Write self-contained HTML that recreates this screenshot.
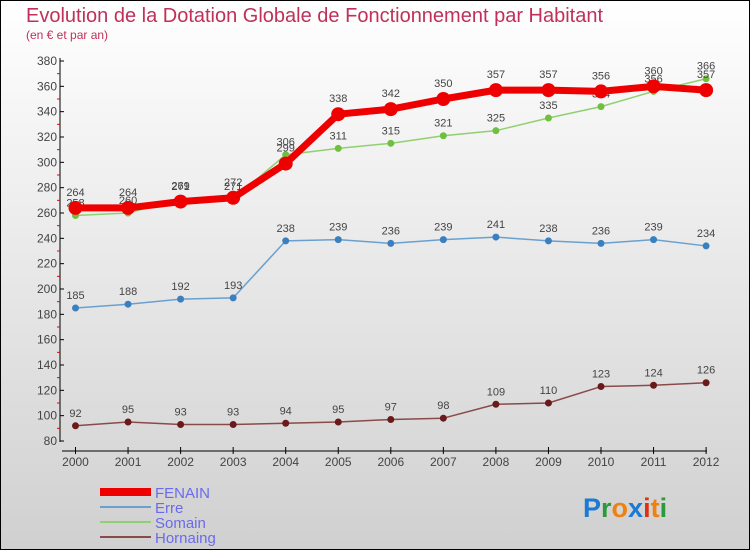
<!DOCTYPE html>
<html><head><meta charset="utf-8"><style>
body{margin:0}
#c{width:750px;height:550px;position:relative;box-sizing:border-box;border:1px solid #000;background:linear-gradient(#fff,#d0d0d0);font-family:"Liberation Sans","DejaVu Sans",sans-serif;overflow:hidden}
</style></head><body>
<div id="c">
<svg id="s" width="750" height="550" style="position:absolute;left:-1px;top:-1px">
<text x="26" y="22" font-size="20" fill="#c0305a">Evolution de la Dotation Globale de Fonctionnement par Habitant</text>
<text x="26" y="39" font-size="12" fill="#c0305a">(en € et par an)</text>
<text x="583" y="517" font-size="27" font-weight="bold" fill="#1a7ad4">P<tspan fill="#2a9a3a">r</tspan><tspan fill="#f08010">o</tspan><tspan fill="#1a7ad4">x</tspan><tspan fill="#e03010">i</tspan><tspan fill="#f08010">t</tspan><tspan fill="#2a9a3a">i</tspan></text>
</svg>
</div>
<script>
const years=[2000,2001,2002,2003,2004,2005,2006,2007,2008,2009,2010,2011,2012];
const fenain=[264,264,269,272,299,338,342,350,357,357,356,360,357];
const erre=[185,188,192,193,238,239,236,239,241,238,236,239,234];
const somain=[258,260,271,271,306,311,315,321,325,335,344,356,366];
const hornaing=[92,95,93,93,94,95,97,98,109,110,123,124,126];
const yTicks=[80,100,120,140,160,180,200,220,240,260,280,300,320,340,360,380];
const ns="http://www.w3.org/2000/svg";
const s=document.getElementById('s');
const X=i=>75.5+i*52.55;
const Y=v=>441-(v-80)*(380/300);
function el(t,a,p){const e=document.createElementNS(ns,t);for(const k in a)e.setAttribute(k,a[k]);(p||s).appendChild(e);return e;}
let ax=el('line',{x1:60,y1:58,x2:60,y2:442,stroke:'#000'});


let bx=el('line',{x1:62,y1:451,x2:707,y2:451,stroke:'#000'});


yTicks.forEach((v,k)=>{
 el('line',{x1:60,y1:Y(v),x2:64,y2:Y(v),stroke:'#000'});
 if(k<yTicks.length-1) el('line',{x1:57,y1:Y(v+10),x2:60,y2:Y(v+10),stroke:'#e00'});
 const t=el('text',{x:57,y:Y(v)+4,'text-anchor':'end','font-size':12,fill:'#444'});t.textContent=v;
 
 
});
years.forEach((y,i)=>{
 el('line',{x1:X(i),y1:447,x2:X(i),y2:454,stroke:'#000'});
 const t=el('text',{x:X(i),y:466,'text-anchor':'middle','font-size':12,fill:'#444'});t.textContent=y;
 
 
});
function series(d,color,w,r,name,dot,lblOff){
 const g=el('g',{});
 
 
 el('polyline',{points:d.map((v,i)=>X(i)+','+Y(v)).join(' '),fill:'none',stroke:color,'stroke-width':w,'stroke-linejoin':'round'},g);
 d.forEach((v,i)=>{
  const c=el('circle',{cx:X(i),cy:Y(v),r:r,fill:dot},g);
  
  
  const t=el('text',{x:X(i),y:Y(v)+lblOff,'text-anchor':'middle','font-size':11,fill:'#444'},g);t.textContent=v;
 });
}
series(hornaing,'#8a4a4a',1.5,3.5,'hornaing','#6a1a1a',-9);
series(erre,'#6aa0d0',1.5,3.5,'erre','#3a80c0',-9);
series(somain,'#90d070',1.5,3.5,'somain','#70c040',-9);
series(fenain,'#ee0000',7,7,'fenain','#ee0000',-12);
const leg=[['FENAIN','#ee0000',8],['Erre','#6aa0d0',2],['Somain','#90d070',2],['Hornaing','#8a4a4a',2]];
leg.forEach((l,k)=>{
 const y=492+k*15;
 const li=el('line',{x1:100,y1:y,x2:151,y2:y,stroke:l[1],'stroke-width':l[2]});
 
 
 const t=el('text',{x:155,y:y+6,'font-size':15,fill:'#6a6aee'});t.textContent=l[0];
 
 
});
</script>
</body></html>
